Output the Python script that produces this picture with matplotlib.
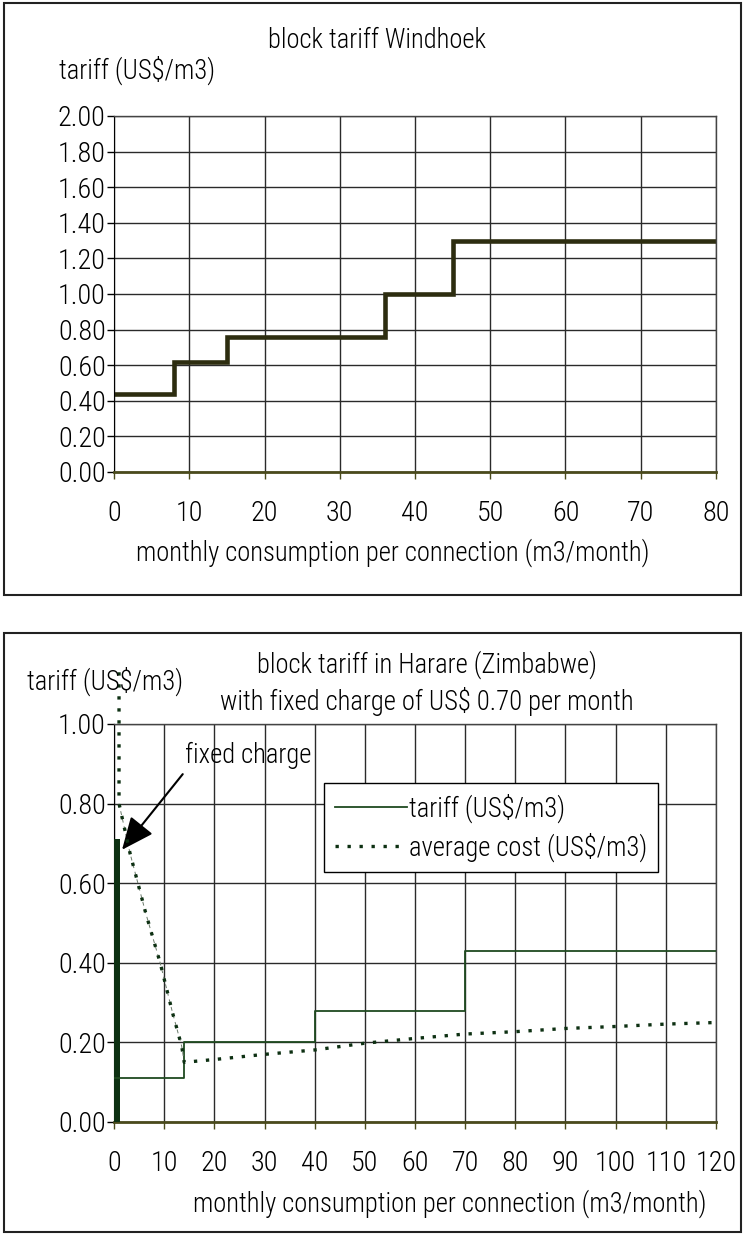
import matplotlib
matplotlib.use("Agg")
import matplotlib.pyplot as plt
import matplotlib.font_manager as fm
from matplotlib.patches import Rectangle

# Windhoek block tariff (US$/m3)
wdh_x = [0, 8, 15, 36, 45, 80]
wdh_y = [0.44, 0.62, 0.76, 1.00, 1.30, 1.30]
wdh_yticks = [0.0, 0.2, 0.4, 0.6, 0.8, 1.0, 1.2, 1.4, 1.6, 1.8, 2.0]
wdh_xticks = [0, 10, 20, 30, 40, 50, 60, 70, 80]

# Harare block tariff (US$/m3)
hre_x = [0, 14, 40, 70, 120]
hre_y = [0.11, 0.20, 0.28, 0.43, 0.43]
fixed_charge = 0.71
avg_x = [1, 1, 3.2, 6.3, 9.2, 11.7, 13.5, 14, 20, 30, 40, 50, 60, 70, 80, 90, 100, 110, 120]
avg_y = [1.13, 0.80, 0.675, 0.526, 0.40, 0.273, 0.19, 0.15, 0.157, 0.17, 0.181,
         0.198, 0.21, 0.221, 0.227, 0.235, 0.24, 0.246, 0.25]
hre_yticks = [0.0, 0.2, 0.4, 0.6, 0.8, 1.0]
hre_xticks = list(range(0, 121, 10))

xlabel = 'monthly consumption per connection (m3/month)'

# the original uses a narrow font, take the narrowest one we have
names = sorted({f.name for f in fm.fontManager.ttflist})
family = 'DejaVu Sans'
for cand in ['Liberation Sans Narrow', 'Roboto Condensed', 'DejaVu Sans Condensed',
             'Noto Sans Condensed', 'Open Sans Condensed']:
    if cand in names:
        family = cand
        break
else:
    narrow = [n for n in names if 'Narrow' in n or 'Condensed' in n]
    if narrow:
        family = narrow[0]
    else:
        cond = [f for f in fm.fontManager.ttflist
                if f.name == 'DejaVu Sans' and str(f.stretch) in ('condensed', 'semi-condensed')]
        if cond:
            plt.rcParams['font.stretch'] = 'condensed'
plt.rcParams['font.family'] = [family, 'DejaVu Sans']
plt.rcParams['font.weight'] = 'light'

W, H = 744, 1236
fig = plt.figure(figsize=(W / 100, H / 100), dpi=100)
renderer = fig.canvas.get_renderer()


def fit_size(s, target_px, base=20):
    t = fig.text(0, 0, s, fontsize=base)
    w = t.get_window_extent(renderer).width
    t.remove()
    return base * target_px / w


TICK = fit_size('0.00', 48)
TXT = fit_size(xlabel, 515)


def fx(px):
    return px / W


def fy(py):
    return 1 - py / H


def style_axes(ax):
    ax.grid(True, color='#2a2a2a', lw=1.0)
    ax.set_axisbelow(True)
    for s in ['top', 'right']:
        ax.spines[s].set_color('#444444')
        ax.spines[s].set_linewidth(1.0)
    ax.spines['left'].set_color('black')
    ax.spines['bottom'].set_color('#4a4a1c')
    ax.spines['bottom'].set_linewidth(2.0)
    ax.tick_params(axis='y', direction='out', length=5, width=1, labelsize=TICK, pad=1)
    ax.tick_params(axis='x', direction='out', length=5, width=1, color='#4a4a1c',
                   labelsize=TICK, pad=15)


# frames around the two charts
fig.add_artist(Rectangle((fx(4), fy(595)), fx(737), 592 / H, transform=fig.transFigure,
                         fill=False, ec='#222222', lw=1.5))
fig.add_artist(Rectangle((fx(4), fy(1232)), fx(737), 599 / H, transform=fig.transFigure,
                         fill=False, ec='#222222', lw=1.5))

# ---- top chart
ax1 = fig.add_axes([fx(114), fy(472), fx(602), 356 / H])
ax1.step(wdh_x, wdh_y, where='post', color='#2d2d10', lw=3.3, solid_joinstyle='miter')
ax1.set_xlim(0, 80)
ax1.set_ylim(0, 2.0)
ax1.set_xticks(wdh_xticks)
ax1.set_yticks(wdh_yticks)
ax1.set_yticklabels([f'{v:.2f}' for v in wdh_yticks])
style_axes(ax1)

fig.text(fx(377), fy(40), 'block tariff Windhoek', ha='center', va='center', fontsize=TXT)
fig.text(fx(59), fy(70), 'tariff (US$/m3)', ha='left', va='center', fontsize=TXT)
fig.text(fx(393), fy(553), xlabel, ha='center', va='center', fontsize=TXT)

# ---- bottom chart
ax2 = fig.add_axes([fx(114), fy(1122), fx(602), 398 / H])
ax2.bar(0, fixed_charge, width=1.1, align='edge', color='#0d3012', zorder=3)
ax2.step(hre_x, hre_y, where='post', color='#1f4a20', lw=1.3, zorder=3,
         label='tariff (US$/m3)')
ax2.plot(avg_x[1:8], avg_y[1:8], color='#6a7a6a', lw=0.7, ls=(0, (4, 4)), zorder=3)
ax2.plot(avg_x, avg_y, color='#0d3012', lw=2.4, ls=(0, (1, 2.6)), zorder=4,
         clip_on=False, label='average cost (US$/m3)')
ax2.set_xlim(0, 120)
ax2.set_ylim(0, 1.0)
ax2.set_xticks(hre_xticks)
ax2.set_yticks(hre_yticks)
ax2.set_yticklabels([f'{v:.2f}' for v in hre_yticks])
style_axes(ax2)

ax2.text(14.2, 0.92, 'fixed charge', fontsize=TXT, ha='left', va='center')
ax2.annotate('', xy=(1.6, 0.684), xytext=(13.7, 0.874),
             arrowprops=dict(arrowstyle='-|>,head_length=0.8,head_width=0.35',
                             color='black', lw=1.5, mutation_scale=25,
                             shrinkA=0, shrinkB=0))

leg = ax2.legend(loc='upper left', bbox_to_anchor=((324 - 114) / 602, (1122 - 783) / 398),
                 fontsize=TXT, frameon=True, fancybox=False, handlelength=2.7,
                 handletextpad=0.1, borderpad=0.4, labelspacing=0.35, borderaxespad=0)
leg.get_frame().set_edgecolor('black')
leg.get_frame().set_linewidth(1.0)
leg.get_frame().set_alpha(1)

fig.text(fx(427), fy(665), 'block tariff in Harare (Zimbabwe)', ha='center', va='center',
         fontsize=TXT)
fig.text(fx(427), fy(701), 'with fixed charge of US$ 0.70 per month', ha='center',
         va='center', fontsize=TXT)
fig.text(fx(27), fy(681), 'tariff (US$/m3)', ha='left', va='center', fontsize=TXT)
fig.text(fx(450), fy(1204), xlabel, ha='center', va='center', fontsize=TXT)

fig.savefig('out.png', dpi=100)
